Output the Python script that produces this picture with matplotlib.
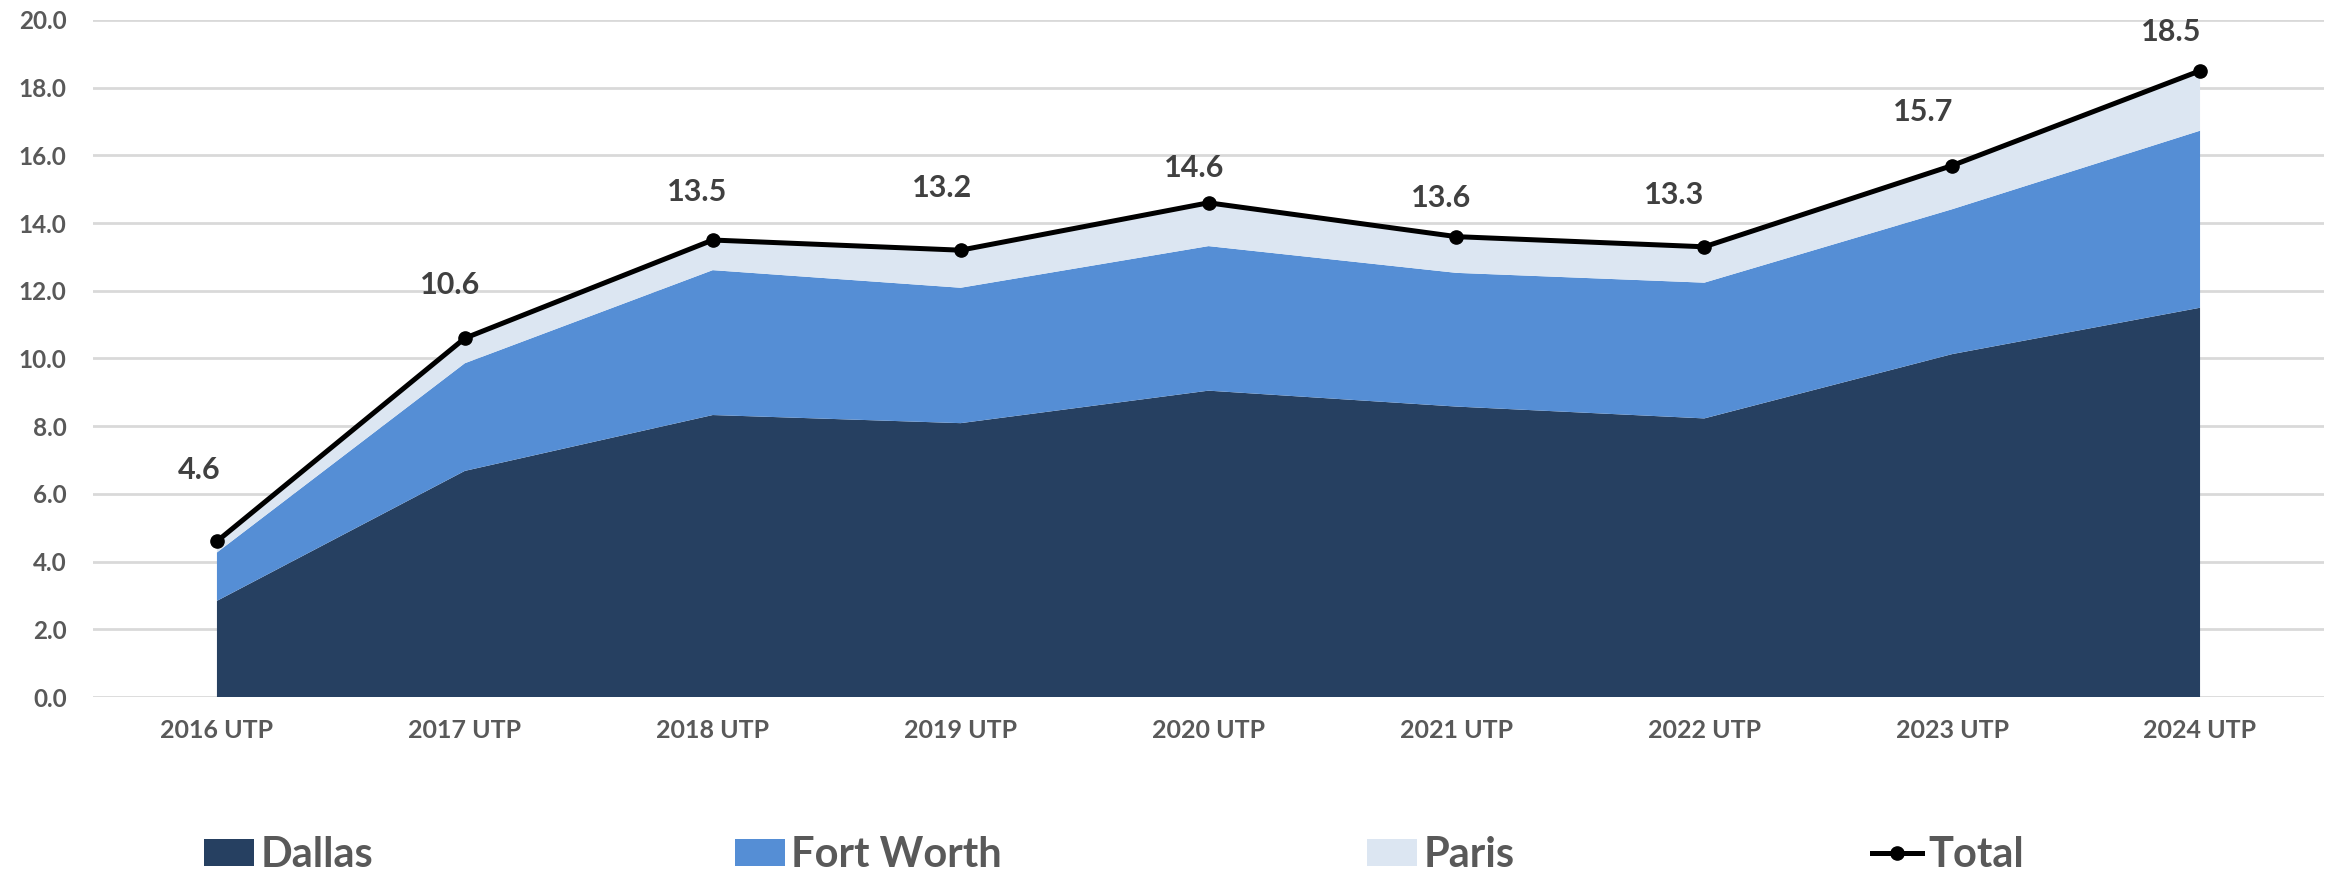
import matplotlib
matplotlib.use("Agg")
import matplotlib.pyplot as plt
from matplotlib.patches import Patch
from matplotlib.lines import Line2D
from matplotlib import font_manager
import numpy as np

# ---- data ----
categories = ["2016 UTP", "2017 UTP", "2018 UTP", "2019 UTP", "2020 UTP",
              "2021 UTP", "2022 UTP", "2023 UTP", "2024 UTP"]
dallas = [2.84, 6.68, 8.33, 8.09, 9.05, 8.58, 8.23, 10.13, 11.50]
fort_worth = [1.43, 3.18, 4.28, 4.00, 4.27, 3.95, 4.01, 4.28, 5.23]
paris = [0.33, 0.74, 0.89, 1.11, 1.28, 1.07, 1.06, 1.29, 1.77]
total = [4.6, 10.6, 13.5, 13.2, 14.6, 13.6, 13.3, 15.7, 18.5]
y_ticks = [0, 2, 4, 6, 8, 10, 12, 14, 16, 18, 20]

# label offsets (pixels) relative to each total point
label_dx = [-18, -15, -16, -19, -14, -15, -30, -29, -29]
label_dy = [71, 53, 48, 62, 35, 39, 52, 54, 39]

# ---- style ----
C_DALLAS = "#264061"
C_FW = "#558ED5"
C_PARIS = "#DCE6F2"
C_GRID = "#D9D9D9"
C_TEXT = "#595959"
C_LABEL = "#404040"

bold_families = {f.name for f in font_manager.fontManager.ttflist
                 if (isinstance(f.weight, int) and f.weight >= 600) or
                 f.weight in ("bold", "semibold", "demibold", "heavy")}
family = "DejaVu Sans"
for cand in ["Lato", "Open Sans", "Noto Sans", "Roboto", "Liberation Sans"]:
    if cand in bold_families:
        family = cand
        break
FONT = [family, "DejaVu Sans"]

plt.rcParams["font.family"] = FONT
plt.rcParams["font.weight"] = "bold"

fig = plt.figure(figsize=(23.33, 8.71), dpi=100)
ax = fig.add_axes([93 / 2333, 1 - 697 / 871, (2324 - 93) / 2333, (697 - 20) / 871])

x = np.arange(len(categories))
ax.stackplot(x, dallas, fort_worth, paris, colors=[C_DALLAS, C_FW, C_PARIS],
             linewidth=0, zorder=2)
ax.plot(x, total, color="black", lw=3.6, marker="o", ms=9.5, zorder=4,
        solid_joinstyle="miter")

for xi, t, dx, dy in zip(x, total, label_dx, label_dy):
    ax.annotate(f"{t:.1f}", (xi, t), xytext=(dx, dy), textcoords="offset pixels",
                ha="center", va="center", fontsize=22, fontweight="bold",
                color=C_LABEL, zorder=5)

ax.set_xlim(-0.5, len(categories) - 0.5)
ax.set_ylim(0, 20)
ax.set_yticks(y_ticks)
ax.set_yticklabels([f"{v:.1f}" for v in y_ticks])
ax.set_xticks(x)
ax.set_xticklabels(categories)
ax.tick_params(axis="y", length=0, pad=19, labelsize=17.5, labelcolor=C_TEXT)
ax.tick_params(axis="x", length=0, pad=16, labelsize=18, labelcolor=C_TEXT)
for lbl in ax.get_xticklabels() + ax.get_yticklabels():
    lbl.set_fontweight("bold")
ax.grid(axis="y", color=C_GRID, lw=2, zorder=0)
ax.set_axisbelow(True)
for s in ax.spines.values():
    s.set_visible(False)

# ---- legend: four separate entries placed like the reference ----
entries = [
    (Patch(facecolor=C_DALLAS, edgecolor="none"), "Dallas", 204),
    (Patch(facecolor=C_FW, edgecolor="none"), "Fort Worth", 735),
    (Patch(facecolor=C_PARIS, edgecolor="none"), "Paris", 1367),
    (Line2D([0], [0], color="black", lw=3.6, marker="o", ms=9.5), "Total", 1872),
]
for handle, text, px in entries:
    leg = fig.legend([handle], [text], loc="center left",
                     bbox_to_anchor=(px / 2333, 1 - 855 / 871),
                     frameon=False, fontsize=30, handlelength=1.2,
                     handleheight=0.6, handletextpad=0.15, borderpad=0,
                     borderaxespad=0)
    for t in leg.get_texts():
        t.set_color(C_TEXT)
        t.set_fontweight("bold")

fig.savefig("out.png", dpi=100)
